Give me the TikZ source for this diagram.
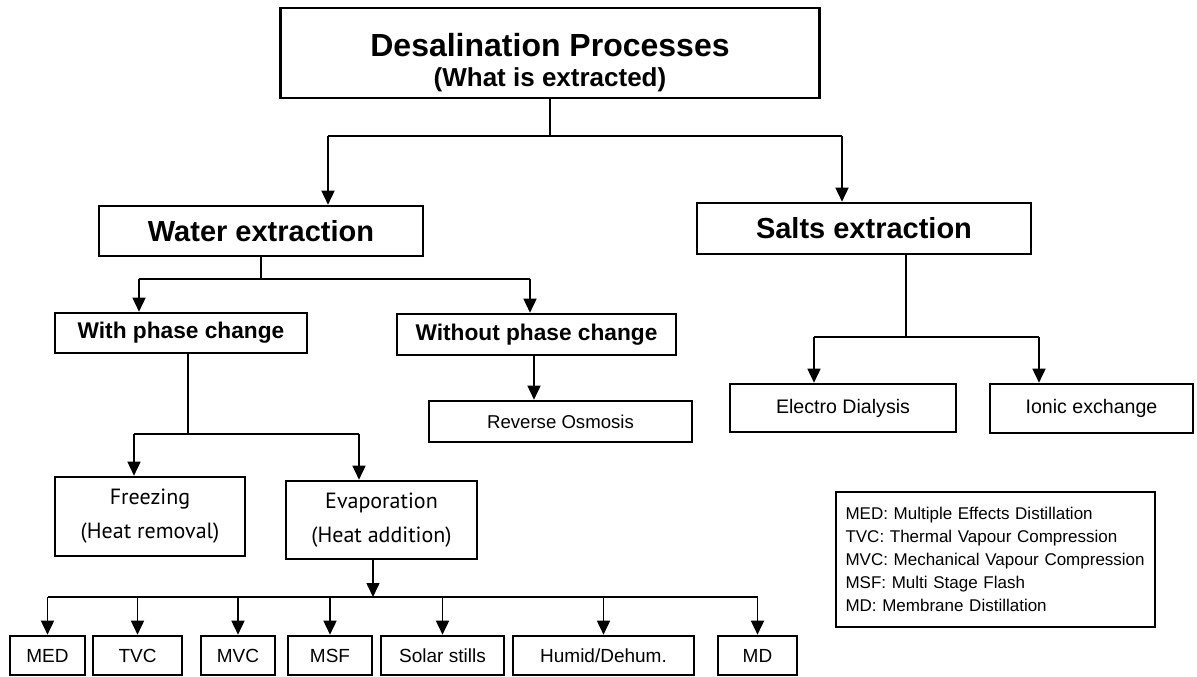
\documentclass[tikz,border=0pt]{standalone}
\usepackage{fontspec}
\setmainfont{Liberation Sans}
\newfontfamily\myriad{PT Sans}
\usetikzlibrary{arrows.meta}

\begin{document}
\begin{tikzpicture}[x=1pt,y=-1pt,
	box/.style={draw,line width=2.6pt,inner sep=0pt,align=center},
	link/.style={line width=1.6pt},
	arr/.style={line width=1.6pt,-{Triangle[length=14pt,width=13pt]}}]
	\useasboundingbox (0,0) rectangle (1197,677);
	\begin{scope}[every node/.style={box}]
	\node[minimum width=539pt,minimum height=90pt] (top) at (550,53) {};
	\node[minimum width=324pt,minimum height=50pt,font=\fontsize{29}{30}\selectfont\bfseries] (water) at (261,231) {Water extraction};
	\node[minimum width=334pt,minimum height=51pt,font=\fontsize{29}{30}\selectfont\bfseries] (salts) at (864,228.5) {Salts extraction};
	\node[minimum width=252pt,minimum height=40pt,font=\fontsize{22.7}{24}\selectfont\bfseries] (with) at (181,333) {With phase change};
	\node[minimum width=279pt,minimum height=41pt,font=\fontsize{22.7}{24}\selectfont\bfseries] (without) at (536.5,334.5) {Without phase change};
	\node[minimum width=263pt,minimum height=41pt,font=\fontsize{18.6}{20}\selectfont] (ro) at (560.5,421.5) {Reverse Osmosis};
	\node[minimum width=226pt,minimum height=48pt,font=\fontsize{19.6}{21}\selectfont] (ed) at (843,408) {Electro Dialysis};
	\node[minimum width=203pt,minimum height=49pt,font=\fontsize{19.6}{21}\selectfont] (ie) at (1091.5,408.5) {Ionic exchange};
	\node[minimum width=190pt,minimum height=79pt,font=\myriad\fontsize{22}{34}\selectfont] (freeze) at (150,516.5) {Freezing\\(Heat removal)};
	\node[minimum width=191pt,minimum height=78pt,font=\myriad\fontsize{22}{34}\selectfont] (evap) at (381.5,520) {Evaporation\\(Heat addition)};
	\end{scope}
	\node[anchor=base,font=\fontsize{32}{34}\selectfont\bfseries] (title) at (550,57) {Desalination Processes};
	\node[anchor=base,font=\fontsize{26}{28}\selectfont\bfseries] (subtitle) at (550,87) {(What is extracted)};
	\begin{scope}[every node/.style={box,minimum height=39pt,font=\fontsize{19}{20}\selectfont}]
	\node[minimum width=75pt] (med) at (47.5,655.5) {MED};
	\node[minimum width=89pt] (tvc) at (137.5,655.5) {TVC};
	\node[minimum width=74pt] (mvc) at (238,655.5) {MVC};
	\node[minimum width=84pt] (msf) at (330,655.5) {MSF};
	\node[minimum width=123pt] (solar) at (442.5,655.5) {Solar stills};
	\node[minimum width=181pt] (humid) at (603.5,655.5) {Humid/Dehum.};
	\node[minimum width=79pt] (md) at (757.5,655.5) {MD};
	\end{scope}
	\node[box,minimum width=319pt,minimum height=135pt,text width=300pt,align=left,font=\fontsize{17}{23}\selectfont] (key) at (995.5,559.5) {MED: Multiple Effects Distillation\\TVC: Thermal Vapour Compression\\MVC: Mechanical Vapour Compression\\MSF: Multi Stage Flash\\MD: Membrane Distillation};
	\coordinate (j1) at (550,136);
	\coordinate (j1l) at (328,136);
	\coordinate (j1r) at (842,136);
	\coordinate (j2) at (261,279);
	\coordinate (j2l) at (139,279);
	\coordinate (j2r) at (530,279);
	\coordinate (j3) at (188,434);
	\coordinate (j3l) at (134,434);
	\coordinate (j3r) at (359,434);
	\coordinate (j4) at (534,380);
	\coordinate (j5) at (906,337);
	\coordinate (j5l) at (814,337);
	\coordinate (j5r) at (1039,337);
	\coordinate (j6) at (373,597);
	\draw [link] (top.south) -- (j1);
	\draw [link] (j1l) -- (j1r);
	\draw [arr] (j1l) -- (j1l |- water.north);
	\draw [arr] (j1r) -- (j1r |- salts.north);
	\draw [link] (water.south) -- (j2);
	\draw [link] (j2l) -- (j2r);
	\draw [arr] (j2l) -- (j2l |- with.north);
	\draw [arr] (j2r) -- (j2r |- without.north);
	\draw [link] (j3 |- with.south) -- (j3);
	\draw [link] (j3l) -- (j3r);
	\draw [arr] (j3l) -- (j3l |- freeze.north);
	\draw [arr] (j3r) -- (j3r |- evap.north);
	\draw [arr] (j4 |- without.south) -- (j4 |- ro.north);
	\draw [link] (j5 |- salts.south) -- (j5);
	\draw [link] (j5l) -- (j5r);
	\draw [arr] (j5l) -- (j5l |- ed.north);
	\draw [arr] (j5r) -- (j5r |- ie.north);
	\draw [arr] (j6 |- evap.south) -- (j6);
	\draw [link] (med.north |- j6) -- (md.north |- j6);
	\draw [arr] (med.north |- j6) -- (med.north);
	\draw [arr] (tvc.north |- j6) -- (tvc.north);
	\draw [arr] (mvc.north |- j6) -- (mvc.north);
	\draw [arr] (msf.north |- j6) -- (msf.north);
	\draw [arr] (solar.north |- j6) -- (solar.north);
	\draw [arr] (humid.north |- j6) -- (humid.north);
	\draw [arr] (md.north |- j6) -- (md.north);
\end{tikzpicture}
\end{document}
